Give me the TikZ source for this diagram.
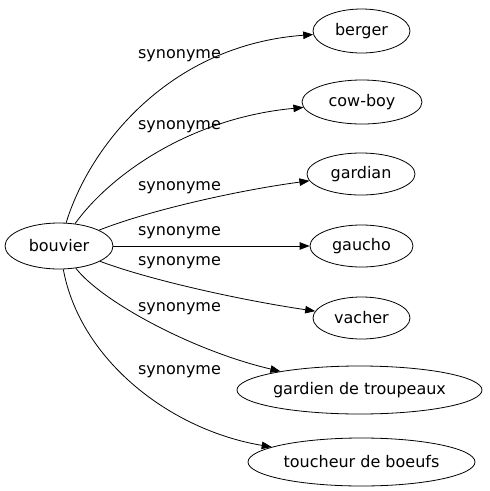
\documentclass[tikz,border=0pt]{standalone}
\usepackage{fontspec}
\setmainfont{DejaVu Sans}
\usetikzlibrary{shapes.geometric,arrows.meta}
\tikzset{
  word/.style={ellipse,draw,line width=0.8pt,inner sep=0pt,font=\fontsize{16}{19}\selectfont},
  rel/.style={font=\fontsize{16}{19}\selectfont,inner sep=0pt},
  link/.style={draw,line width=0.8pt,-{Triangle[length=10pt,width=7.5pt]}}
}
\begin{document}
\begin{tikzpicture}[x=1pt,y=-1pt]
\useasboundingbox (0,0) rectangle (490,491);
\node[word,minimum width=108pt,minimum height=46pt] (bouvier) at (59,246) {bouvier};
\node[word,minimum width=97pt,minimum height=44pt] (berger) at (361.5,31) {berger};
\node[word,minimum width=120pt,minimum height=44pt] (cowboy) at (362,102) {cow-boy};
\node[word,minimum width=108pt,minimum height=42pt] (gardian) at (361,174) {gardian};
\node[word,minimum width=103pt,minimum height=42pt] (gaucho) at (361.5,246) {gaucho};
\node[word,minimum width=97pt,minimum height=42pt] (vacher) at (361.5,318) {vacher};
\node[word,minimum width=245pt,minimum height=48pt] (gardien) at (359.5,390) {gardien de troupeaux};
\node[word,minimum width=227pt,minimum height=48pt] (toucheur) at (361.5,462) {toucheur de boeufs};

\node[rel] (l1) at (179.5,56) {synonyme};
\node[rel] (l2) at (179.5,127) {synonyme};
\node[rel] (l3) at (179.5,188) {synonyme};
\node[rel] (l4) at (179.5,233) {synonyme};
\node[rel] (l5) at (179.5,263) {synonyme};
\node[rel] (l6) at (179.5,309) {synonyme};
\node[rel] (l7) at (179.5,372) {synonyme};

\path[link] (bouvier) .. controls (90,145) and (170,45) .. (berger);
\path[link] (bouvier) .. controls (110,175) and (190,118) .. (cowboy);
\path[link] (bouvier) .. controls (150,210) and (240,190) .. (gardian);
\path[link] (bouvier) -- (gaucho);
\path[link] (bouvier) .. controls (150,280) and (240,300) .. (vacher);
\path[link] (bouvier) .. controls (100,300) and (190,350) .. (gardien);
\path[link] (bouvier) .. controls (80,360) and (170,430) .. (toucheur);
\end{tikzpicture}
\end{document}
